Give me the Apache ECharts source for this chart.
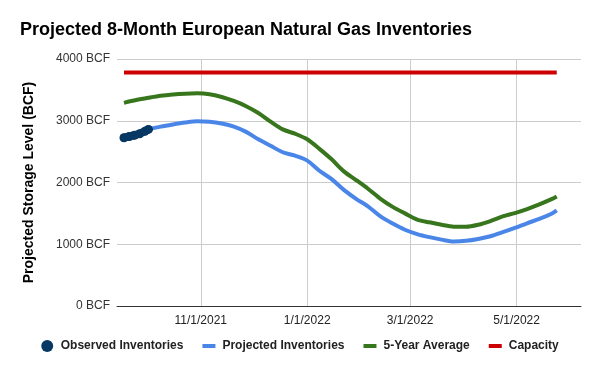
<!DOCTYPE html>
<html>
<head>
<meta charset="utf-8">
<script src="https://cdn.jsdelivr.net/npm/echarts@6/dist/echarts.min.js"></script>
<style>html,body{margin:0;padding:0;background:#fff}#c{width:600px;height:371px}</style>
</head>
<body>
<div id="c"></div>
<script>
// ---- Data ----
var observedDates = ['2021-09-18','2021-09-21','2021-09-24','2021-09-27','2021-09-30','2021-10-02'];
var observedValues = [2725, 2745, 2765, 2790, 2830, 2860];

var weekDates = ['2021-09-18','2021-09-25','2021-10-02','2021-10-09','2021-10-16','2021-10-23','2021-10-30',
  '2021-11-06','2021-11-13','2021-11-20','2021-11-27','2021-12-04','2021-12-11','2021-12-18','2021-12-25',
  '2022-01-01','2022-01-08','2022-01-15','2022-01-22','2022-01-29','2022-02-05','2022-02-12','2022-02-19','2022-02-26',
  '2022-03-05','2022-03-12','2022-03-19','2022-03-26','2022-04-02','2022-04-09','2022-04-16','2022-04-23','2022-04-30',
  '2022-05-07','2022-05-14','2022-05-21','2022-05-24'];
var projectedValues = [null, null, 2860, 2905, 2940, 2970, 2990,
  2983, 2955, 2905, 2820, 2700, 2595, 2490, 2435,
  2355, 2190, 2055, 1880, 1735, 1610, 1450, 1335, 1235,
  1165, 1115, 1075, 1045, 1055, 1085, 1129, 1195, 1265,
  1340, 1410, 1495, 1550];
var avgValues = [3290, 3335, 3372, 3405, 3425, 3438, 3444,
  3430, 3385, 3320, 3235, 3125, 2985, 2860, 2790,
  2700, 2545, 2375, 2180, 2040, 1895, 1736, 1605, 1500,
  1400, 1355, 1315, 1285, 1283, 1315, 1375, 1450, 1505,
  1570, 1645, 1730, 1775];
var capacityDates = ['2021-09-18', '2022-05-24'];
var capacityValues = [3780, 3780];

var xTickDates = ['2021-11-01','2022-01-01','2022-03-01','2022-05-01'];
var yTicks = [0, 1000, 2000, 3000, 4000];
var seriesNames = ['Observed Inventories', 'Projected Inventories', '5-Year Average', 'Capacity'];

// ---- Build ----
function t(s){ return Date.parse(s + 'T00:00:00Z'); }
function pairs(dates, vals){ return dates.map(function(d,i){ return [t(d), vals[i]]; }); }
var xMin = t('2021-09-14');
var xMax = t('2022-06-06') + 0.9*86400000;

var font = '"Liberation Sans", Arial, sans-serif';
var chart = echarts.init(document.getElementById('c'), null, {renderer:'canvas'});
var rectIcon = 'path://M0,0h13v4h-13z';
chart.setOption({
  animation: false,
  backgroundColor: '#fff',
  title: {
    text: 'Projected 8-Month European Natural Gas Inventories',
    left: 15, top: 16,
    textStyle: {fontFamily: font, fontSize: 18, fontWeight: 'bold', color: '#000'}
  },
  legend: {
    bottom: 14, left: 'center',
    itemWidth: 13, itemHeight: 12, itemGap: 19,
    textStyle: {fontFamily: font, fontSize: 12, fontWeight: 'bold', color: '#222', padding:[0,0,0,2]},
    data: [
      {name: seriesNames[0], icon: 'circle'},
      {name: seriesNames[1], icon: rectIcon},
      {name: seriesNames[2], icon: rectIcon},
      {name: seriesNames[3], icon: rectIcon}
    ]
  },
  grid: {left: 117, right: 19, top: 59, bottom: 65, containLabel: false},
  xAxis: {
    type: 'value',
    min: xMin, max: xMax,
    axisLine: {show: true, lineStyle: {color: '#333', width: 1}},
    axisTick: {show: false, customValues: xTickDates.map(t)},
    axisLabel: {
      customValues: xTickDates.map(t),
      fontFamily: font, fontSize: 12, color: '#222', margin: 9,
      formatter: function(v){ var d = new Date(v); return (d.getUTCMonth()+1) + '/' + d.getUTCDate() + '/' + d.getUTCFullYear(); }
    },
    splitLine: {show: true, lineStyle: {color: '#ccc', width: 1}}
  },
  yAxis: {
    type: 'value',
    min: yTicks[0], max: yTicks[yTicks.length-1], interval: 1000,
    name: 'Projected Storage Level (BCF)',
    nameLocation: 'middle', nameGap: 81,
    nameTextStyle: {fontFamily: font, fontSize: 14, fontWeight: 'bold', color: '#000'},
    axisLine: {show: false},
    axisTick: {show: false},
    axisLabel: {fontFamily: font, fontSize: 12, color: '#333', margin: 7,
      formatter: function(v){ return v + ' BCF'; }},
    splitLine: {show: true, lineStyle: {color: '#ccc', width: 1}}
  },
  series: [
    {
      name: seriesNames[3], type: 'line', data: pairs(capacityDates, capacityValues),
      showSymbol: false, symbol: 'none', color: '#cc0000',
      lineStyle: {width: 4, color: '#cc0000'}, z: 2
    },
    {
      name: seriesNames[2], type: 'line', data: pairs(weekDates, avgValues),
      showSymbol: false, symbol: 'none', smooth: 0.3, color: '#38761d',
      lineStyle: {width: 4, color: '#38761d'}, z: 3
    },
    {
      name: seriesNames[1], type: 'line', data: pairs(weekDates, projectedValues),
      showSymbol: false, symbol: 'none', smooth: 0.3, color: '#4a86e8', connectNulls: false,
      lineStyle: {width: 4, color: '#4a86e8'}, z: 4
    },
    {
      name: seriesNames[0], type: 'line', data: pairs(observedDates, observedValues),
      symbol: 'circle', symbolSize: 9, showSymbol: true, color: '#073763',
      itemStyle: {color: '#073763'},
      lineStyle: {width: 8, color: '#073763', cap: 'round'}, z: 5
    }
  ]
});
</script>
</body>
</html>
